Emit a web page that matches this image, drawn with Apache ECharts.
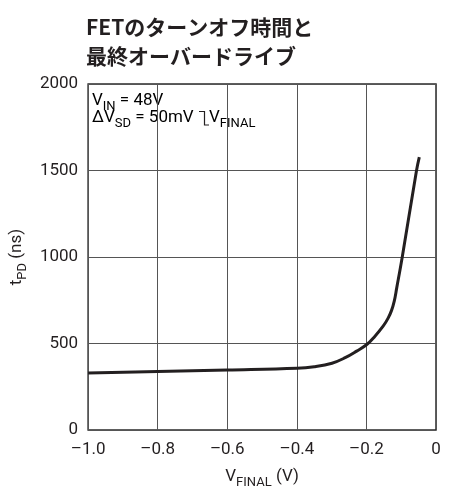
<!DOCTYPE html>
<html>
<head>
<meta charset="utf-8">
<script src="https://cdn.jsdelivr.net/npm/echarts@6/dist/echarts.min.js"></script>
<style>
  html, body { margin: 0; padding: 0; background: #fff; }
  #chart { width: 465px; height: 494px; }
</style>
</head>
<body>
<div id="chart"></div>
<script>
// Turn-off delay of the FET versus final overdrive voltage
const vFinal = [-1.0, -0.8, -0.6, -0.4, -0.35, -0.299, -0.261, -0.228, -0.199, -0.176, -0.152, -0.138, -0.128, -0.12, -0.113, -0.097, -0.056, -0.048];
const tPD    = [329, 338, 347, 357, 366, 386, 418, 456, 494, 541, 600, 645, 690, 745, 820, 1000, 1500, 1577];

const xTicks = ['–1.0', '–0.8', '–0.6', '–0.4', '–0.2', '0'];
const yTicks = ['0', '500', '1000', '1500', '2000'];

const titleLines = ['FETのターンオフ時間と', '最終オーバードライブ'];

const LATIN = '"Liberation Sans Narrow", "Roboto", "Liberation Sans", sans-serif';
const INK = '#231f20';

const mainStyle = { fontFamily: LATIN, fontSize: 17, color: INK, lineHeight: 21, verticalAlign: 'top' };
const subStyle = { fontFamily: LATIN, fontSize: 13, color: INK, lineHeight: 13, verticalAlign: 'bottom' };
const subRich = { m: mainStyle, s: subStyle };

const chart = echarts.init(document.getElementById('chart'), null, { renderer: 'canvas' });

const points = vFinal.map((v, i) => [v, tPD[i]]);

chart.setOption({
  animation: false,
  backgroundColor: '#fff',
  title: {
    text: titleLines.join('\n'),
    left: 81,
    top: 8,
    textStyle: {
      fontFamily: '"Noto Sans CJK JP", sans-serif',
      fontWeight: 'bold',
      fontSize: 21,
      lineHeight: 29,
      color: INK
    }
  },
  grid: {
    left: 83, right: 29, top: 84, bottom: 59,
    show: true,
    borderColor: '#2a2a2a',
    borderWidth: 1.5,
    backgroundColor: 'transparent'
  },
  xAxis: {
    type: 'value',
    min: -1, max: 0, interval: 0.2,
    axisLine: { show: false },
    axisTick: { show: false },
    splitLine: { show: true, lineStyle: { color: '#555', width: 1 } },
    axisLabel: {
      margin: 11,
      fontFamily: LATIN, fontSize: 17, color: INK,
      formatter: (val) => {
        const idx = Math.round((val + 1) / 0.2);
        return xTicks[idx] !== undefined ? xTicks[idx] : '';
      }
    },
    name: '{m|V}{s|FINAL}{m| (V)}',
    nameLocation: 'middle',
    nameGap: 38,
    nameTextStyle: { rich: subRich }
  },
  yAxis: {
    type: 'value',
    min: 0, max: 2000, interval: 500,
    axisLine: { show: false },
    axisTick: { show: false },
    splitLine: { show: true, lineStyle: { color: '#555', width: 1 } },
    axisLabel: {
      margin: 10,
      fontFamily: LATIN, fontSize: 17, color: INK,
      formatter: (val) => yTicks[Math.round(val / 500)]
    },
    name: '{m|t}{s|PD}{m| (ns)}',
    nameLocation: 'middle',
    nameRotate: 90,
    nameGap: 54,
    nameTextStyle: { rich: subRich }
  },
  graphic: [
    {
      type: 'text',
      left: 92, top: 92,
      style: { text: '{m|V}{s|IN}{m| = 48V}', rich: subRich }
    },
    {
      type: 'text',
      left: 92, top: 109,
      style: { text: '{m|ΔV}{s|SD}{m| = 50mV}', rich: subRich }
    },
    {
      // small step symbol between the two voltage levels
      type: 'polyline',
      shape: { points: [[199, 111.5], [204.5, 111.5], [204.5, 125], [209, 125]] },
      style: { stroke: INK, lineWidth: 1.2, fill: null }
    },
    {
      type: 'text',
      left: 209, top: 109,
      style: { text: '{m|V}{s|FINAL}', rich: subRich }
    }
  ],
  series: [{
    type: 'line',
    data: points,
    showSymbol: false,
    smooth: 0.4,
    lineStyle: { color: INK, width: 3 },
    z: 5
  }]
});
</script>
</body>
</html>
